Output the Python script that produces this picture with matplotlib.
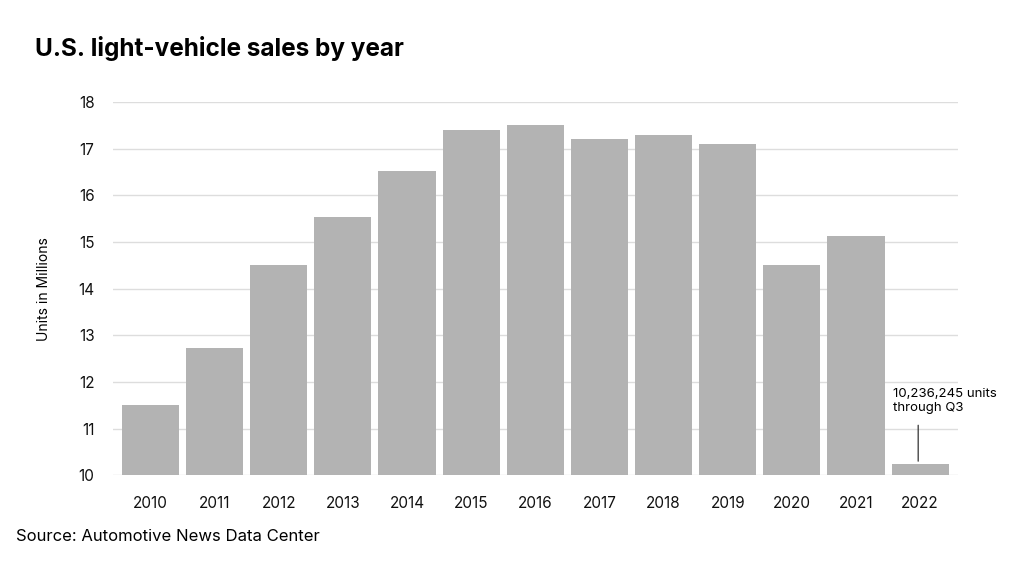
import matplotlib.pyplot as plt

plt.rcParams['font.family'] = ['Inter', 'DejaVu Sans']

# Data (millions of units)
years = ['2010', '2011', '2012', '2013', '2014', '2015', '2016',
         '2017', '2018', '2019', '2020', '2021', '2022']
sales = [11.5, 12.72, 14.5, 15.54, 16.52, 17.4, 17.5,
         17.2, 17.3, 17.1, 14.5, 15.13, 10.236245]
yticks = [10, 11, 12, 13, 14, 15, 16, 17, 18]

fig = plt.figure(figsize=(10.24, 5.65), dpi=100)
ax = fig.add_axes([0.110, 0.159, 0.8255, 0.6605])

x = range(len(years))
ax.bar(x, sales, width=0.89, color='#b3b3b3', zorder=2)

ax.set_ylim(10, 18)
ax.set_xlim(-0.59, len(years) - 0.41)
ax.set_yticks(yticks)
ax.set_xticks(list(x))
ax.set_xticklabels(years)
ax.grid(axis='y', color='#dddddd', linewidth=1, zorder=0)
for s in ax.spines.values():
    s.set_visible(False)
ax.tick_params(length=0, labelsize=11, colors='#111111')
ax.tick_params(axis='x', pad=15)
ax.tick_params(axis='y', pad=13)
ax.set_ylabel('Units in Millions', fontsize=10, labelpad=20)

# note for the partial year
ax.text(11.58, 11.32, '10,236,245 units\nthrough Q3', fontsize=9.5,
        ha='left', va='bottom', linespacing=1.15)
ax.annotate('', xy=(11.97, 10.3), xytext=(11.97, 11.07),
            arrowprops=dict(arrowstyle='-', color='#333333', lw=0.9,
                            shrinkA=0, shrinkB=0))

fig.text(0.034, 0.915, 'U.S. light-vehicle sales by year', fontsize=17.5,
         fontweight='bold', ha='left', va='center')
fig.text(0.016, 0.05, 'Source: Automotive News Data Center', fontsize=12,
         ha='left', va='center')

plt.savefig('out.png', dpi=100)
